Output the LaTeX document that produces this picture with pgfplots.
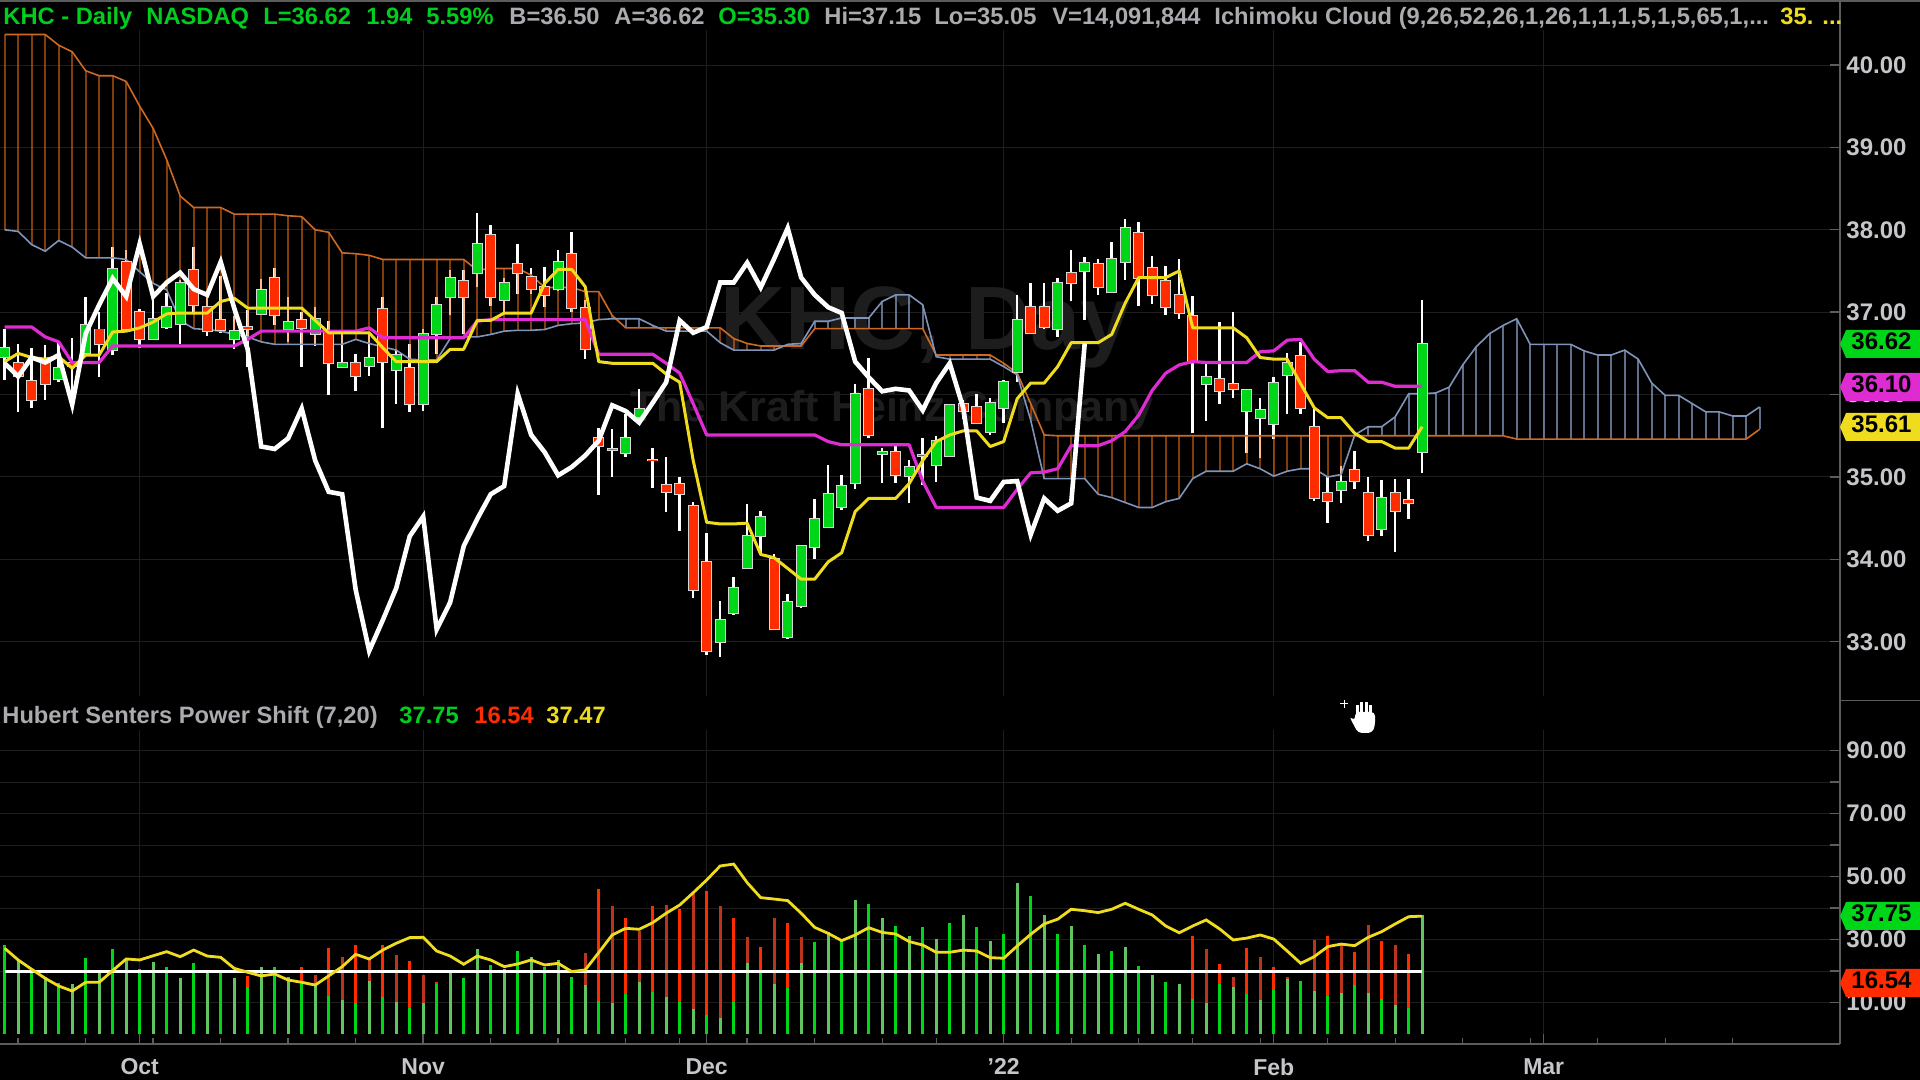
\documentclass[border=0pt]{standalone}
\usepackage{fontspec}
\usepackage{pgfplots}
\usepackage{pgfplotstable}
\pgfplotsset{compat=1.18}
\setmainfont{Liberation Sans}
\definecolor{cgreen}{RGB}{0,214,24}
\definecolor{cred}{RGB}{255,44,0}
\definecolor{palegreen}{RGB}{96,196,96}
\definecolor{palered}{RGB}{186,52,30}
\definecolor{cyel}{RGB}{240,220,30}
\definecolor{cmag}{RGB}{222,44,210}
\definecolor{cor}{RGB}{205,105,35}
\definecolor{hor}{RGB}{255,120,20}
\definecolor{cblu}{RGB}{128,148,186}
\definecolor{gridc}{RGB}{30,30,30}
\definecolor{axc}{RGB}{92,92,92}
\definecolor{lab}{RGB}{198,198,202}
\definecolor{hgreen}{RGB}{0,205,30}
\definecolor{hgray}{RGB}{170,170,175}
\definecolor{wm}{RGB}{29,29,29}

\pgfplotstableread{
i o h l c
0 36.46 36.79 36.18 36.56
4 36.19 36.64 36.15 36.32
6 36.50 37.19 36.48 36.85
8 36.54 37.79 36.48 37.52
11 36.68 37.19 36.68 36.92
12 36.82 37.23 36.80 37.06
13 36.86 37.39 36.62 37.36
17 36.68 36.95 36.55 36.77
19 36.98 37.40 36.96 37.27
21 36.79 37.18 36.64 36.88
23 36.74 37.06 36.59 36.92
25 36.34 36.76 36.32 36.38
27 36.35 36.76 36.22 36.45
29 36.30 36.55 35.89 36.48
31 35.88 36.80 35.80 36.74
32 36.73 37.18 36.49 37.09
33 37.19 37.51 36.96 37.41
35 37.47 38.20 37.30 37.83
37 37.15 37.42 37.00 37.36
41 37.28 37.75 37.26 37.61
45 35.33 35.58 35.00 35.34
46 35.29 35.77 35.24 35.47
47 35.73 36.07 35.70 35.83
53 33.00 33.49 32.82 33.26
54 33.35 33.79 33.33 33.65
55 33.90 34.67 33.90 34.28
56 34.28 34.59 34.07 34.52
58 33.06 33.58 33.03 33.48
59 33.44 34.18 33.41 34.16
60 34.15 34.73 34.00 34.49
61 34.39 35.15 34.39 34.79
62 34.64 35.02 34.60 34.89
63 34.93 36.13 34.86 36.01
65 35.28 35.35 34.93 35.30
67 35.01 35.21 34.69 35.12
69 35.14 35.50 34.94 35.44
70 35.25 35.89 35.24 35.87
73 35.55 35.96 35.51 35.90
74 35.84 36.18 35.66 36.15
75 36.27 37.21 36.15 36.90
78 36.79 37.41 36.70 37.36
80 37.50 37.67 36.91 37.60
82 37.24 37.85 37.23 37.65
83 37.61 38.13 37.39 38.02
89 36.13 36.41 35.68 36.21
92 35.80 36.07 35.29 36.05
93 35.71 35.96 35.23 35.81
94 35.64 36.21 35.46 36.14
95 36.24 36.51 35.77 36.38
99 34.84 35.13 34.68 34.94
102 34.37 34.96 34.28 34.74
105 35.30 37.15 35.05 36.62
}\upc
\pgfplotstableread{
i o h l c
1 36.38 36.62 35.79 36.22
2 36.17 36.56 35.84 35.93
3 36.38 36.60 35.94 36.13
5 36.38 36.69 35.85 36.35
7 36.79 37.00 36.21 36.61
9 37.61 37.75 36.78 36.80
10 37.00 37.04 36.57 36.68
14 37.51 37.79 37.00 37.09
15 37.06 37.19 36.71 36.77
16 36.90 37.44 36.75 36.78
18 36.82 37.03 36.34 36.80
20 37.41 37.54 36.85 36.97
22 36.90 37.00 36.34 36.81
24 36.76 36.89 36.00 36.38
26 36.38 36.49 36.04 36.22
28 37.04 37.19 35.60 36.39
30 36.32 36.62 35.79 35.88
34 37.38 37.51 36.74 37.19
36 37.94 38.06 37.08 37.19
38 37.58 37.83 37.22 37.48
39 37.43 37.54 37.22 37.28
40 37.30 37.55 37.06 37.21
42 37.71 37.97 37.00 37.05
43 37.05 37.15 36.43 36.55
44 35.47 35.59 34.78 35.37
48 35.21 35.35 34.87 35.20
49 34.90 35.24 34.57 34.82
50 34.92 35.00 34.35 34.79
51 34.65 34.70 33.53 33.63
52 33.97 34.32 32.84 32.89
57 34.00 34.06 33.14 33.15
64 36.07 36.45 35.47 35.51
66 35.30 35.37 34.93 35.02
68 35.27 35.47 34.90 35.26
71 35.89 35.93 35.70 35.80
72 35.85 36.01 35.65 35.66
76 37.06 37.35 36.75 36.75
77 37.06 37.35 36.80 36.82
79 37.47 37.75 37.13 37.36
81 37.58 37.65 37.21 37.30
84 37.96 38.09 37.08 37.42
85 37.54 37.68 37.10 37.21
86 37.38 37.56 36.97 37.06
87 37.21 37.65 36.92 36.99
88 36.95 37.20 35.53 36.40
90 36.19 36.88 35.88 36.04
91 36.13 37.00 35.96 36.07
96 36.47 36.64 35.77 35.84
97 35.61 35.85 34.71 34.75
98 34.81 35.00 34.44 34.71
100 35.09 35.31 34.86 34.95
101 34.81 35.00 34.22 34.30
103 34.81 34.98 34.09 34.59
104 34.72 34.98 34.49 34.68
}\dnc
\pgfplotstableread{
i a b
0 38.00 40.37
1 37.98 40.37
2 37.82 40.37
3 37.74 40.37
4 37.87 40.24
5 37.79 40.16
6 37.66 39.93
7 37.66 39.87
8 37.66 39.87
9 37.64 39.80
10 37.49 39.50
11 37.35 39.23
12 37.27 38.85
13 36.90 38.41
14 36.80 38.27
15 36.79 38.27
16 36.77 38.27
17 36.73 38.19
18 36.70 38.19
19 36.64 38.19
20 36.61 38.19
21 36.61 38.17
22 36.61 38.16
23 36.61 38.00
24 36.61 37.97
25 36.61 37.72
26 36.67 37.71
27 36.62 37.69
28 36.58 37.64
29 36.54 37.64
30 36.43 37.64
31 36.42 37.64
32 36.42 37.64
33 36.68 37.64
34 36.70 37.64
35 36.70 37.51
36 36.73 37.53
37 36.77 37.53
38 36.78 37.53
39 36.78 37.45
40 36.79 37.30
41 36.84 37.30
42 36.86 37.30
43 36.87 37.25
44 36.91 37.25
45 36.92 36.96
46 36.92 36.81
47 36.92 36.81
48 36.84 36.81
49 36.77 36.81
50 36.77 36.81
51 36.77 36.81
52 36.77 36.81
53 36.63 36.81
54 36.54 36.68
55 36.54 36.62
56 36.54 36.59
57 36.54 36.59
58 36.61 36.59
59 36.62 36.59
60 36.89 36.80
61 36.89 36.80
62 36.93 36.80
63 36.93 36.80
64 36.93 36.80
65 37.13 36.80
66 37.21 36.80
67 37.21 36.80
68 37.09 36.80
69 36.46 36.48
70 36.43 36.48
71 36.43 36.48
72 36.43 36.48
73 36.43 36.48
74 36.34 36.38
75 36.24 36.26
76 35.69 35.89
77 34.98 35.51
78 34.98 35.50
79 34.98 35.50
80 34.98 35.50
81 34.79 35.50
82 34.75 35.50
83 34.69 35.50
84 34.63 35.50
85 34.63 35.50
86 34.70 35.50
87 34.74 35.50
88 34.98 35.50
89 35.07 35.50
90 35.07 35.50
91 35.07 35.50
92 35.16 35.50
93 35.10 35.50
94 35.01 35.50
95 35.07 35.50
96 35.10 35.50
97 35.10 35.50
98 35.00 35.50
99 35.03 35.50
100 35.51 35.50
101 35.61 35.50
102 35.61 35.50
103 35.73 35.50
104 36.01 35.50
105 36.01 35.50
106 36.02 35.50
107 36.09 35.50
108 36.36 35.50
109 36.58 35.50
110 36.74 35.50
111 36.84 35.50
112 36.92 35.46
113 36.61 35.46
114 36.61 35.46
115 36.61 35.46
116 36.61 35.46
117 36.53 35.46
118 36.48 35.46
119 36.48 35.46
120 36.54 35.46
121 36.43 35.46
122 36.14 35.46
123 35.99 35.46
124 35.99 35.46
125 35.89 35.46
126 35.79 35.46
127 35.79 35.46
128 35.74 35.46
129 35.74 35.46
130 35.85 35.58
}\cloud
\pgfplotstableread{
i t k
0 36.40 36.82
1 36.50 36.82
2 36.45 36.82
3 36.43 36.70
4 36.46 36.64
5 36.32 36.39
6 36.48 36.39
7 36.48 36.39
8 36.76 36.59
9 36.77 36.59
10 36.81 36.59
11 36.88 36.59
12 36.98 36.59
13 36.99 36.59
14 36.99 36.59
15 36.99 36.59
16 37.13 36.59
17 37.17 36.59
18 37.05 36.67
19 37.05 36.77
20 37.05 36.77
21 37.05 36.77
22 37.05 36.77
23 36.90 36.77
24 36.75 36.77
25 36.75 36.77
26 36.75 36.77
27 36.75 36.81
28 36.57 36.69
29 36.40 36.69
30 36.40 36.69
31 36.40 36.69
32 36.40 36.69
33 36.55 36.69
34 36.55 36.69
35 36.90 36.89
36 36.90 36.91
37 36.99 36.91
38 36.99 36.91
39 36.99 36.91
40 37.35 36.91
41 37.52 36.91
42 37.52 36.91
43 37.31 36.91
44 36.40 36.49
45 36.38 36.49
46 36.38 36.49
47 36.38 36.49
48 36.38 36.49
49 36.25 36.38
50 36.15 36.26
51 35.20 35.89
52 34.45 35.51
53 34.43 35.51
54 34.43 35.51
55 34.44 35.51
56 34.06 35.51
57 34.02 35.51
58 33.89 35.51
59 33.76 35.51
60 33.76 35.51
61 33.97 35.43
62 34.08 35.39
63 34.58 35.39
64 34.74 35.39
65 34.74 35.39
66 34.74 35.39
67 34.92 35.39
68 35.20 34.95
69 35.43 34.63
70 35.51 34.63
71 35.56 34.63
72 35.56 34.63
73 35.37 34.63
74 35.43 34.63
75 35.95 34.85
76 36.14 35.05
77 36.14 35.06
78 36.34 35.10
79 36.63 35.38
80 36.63 35.38
81 36.63 35.38
82 36.73 35.44
83 37.11 35.55
84 37.42 35.75
85 37.42 36.05
86 37.42 36.26
87 37.50 36.36
88 36.81 36.40
89 36.81 36.39
90 36.81 36.39
91 36.81 36.39
92 36.69 36.39
93 36.45 36.52
94 36.43 36.53
95 36.43 36.66
96 36.13 36.67
97 35.84 36.43
98 35.72 36.28
99 35.72 36.29
100 35.53 36.29
101 35.43 36.15
102 35.43 36.15
103 35.35 36.10
104 35.35 36.10
105 35.61 36.10
}\lines
\pgfplotstableread{
i c
0 36.38
1 36.22
2 36.45
3 36.39
4 36.48
5 35.88
6 36.74
7 37.09
8 37.41
9 37.19
10 37.83
11 37.19
12 37.36
13 37.48
14 37.28
15 37.21
16 37.61
17 37.05
18 36.55
19 35.37
20 35.34
21 35.47
22 35.83
23 35.20
24 34.82
25 34.79
26 33.63
27 32.89
28 33.26
29 33.65
30 34.28
31 34.52
32 33.15
33 33.48
34 34.16
35 34.49
36 34.79
37 34.89
38 36.01
39 35.51
40 35.30
41 35.02
42 35.12
43 35.26
44 35.44
45 35.87
46 35.80
47 35.66
48 35.90
49 36.15
50 36.90
51 36.75
52 36.82
53 37.36
54 37.36
55 37.60
56 37.30
57 37.65
58 38.02
59 37.42
60 37.21
61 37.06
62 36.99
63 36.40
64 36.21
65 36.04
66 36.07
67 36.05
68 35.81
69 36.14
70 36.38
71 35.84
72 34.75
73 34.71
74 34.94
75 34.95
76 34.30
77 34.74
78 34.59
79 34.68
80 36.62
}\lag
\pgfplotstableread{
i g r
0 28.3 0
2 20.2 0
4 16.36 0
6 24.09 0
8 26.95 0
10 20.6 0
12 21.23 0
14 22.5 0
16 19.86 0
18 15.1 18.5
20 21.23 0
22 15.94 21.44
24 12.13 27.47
26 9.8 28.3
28 11.7 28.3
30 8.2 23.25
32 15.94 16.7
34 17.74 0
36 21.97 0
38 26.4 0
40 21.44 0
42 18.27 0
44 10.65 46.0
46 12.66 36.8
48 13.5 40.7
50 10.33 39.65
52 6.1 45.6
54 10.33 36.8
56 20.4 27.8
58 14.56 35.4
60 29.4 0
62 29.9 0
64 41.2 0
66 34.35 0
68 33.9 0
70 35.4 0
72 33.9 0
74 31.7 0
76 44.0 0
78 31.7 0
80 28.3 0
82 26.4 0
84 21.65 0
86 16.47 0
88 11.07 31.2
90 15.94 22.2
92 12.66 27.47
94 14.04 21.44
96 16.9 0
98 12.13 31.2
100 15.6 26.0
102 11.2 29.7
104 8.2 25.46
}\evenbars
\pgfplotstableread{
i g r
1 23.35 0
3 18.06 0
5 15.94 0
7 19.33 0
9 23.56 0
11 23.0 0
13 17.74 0
15 19.86 0
17 17.74 0
19 21.23 0
21 18.27 0
23 15.6 18.8
25 10.86 24.6
27 17.0 24.1
29 10.33 25.15
31 9.8 18.8
33 19.86 0
35 26.95 0
37 20.6 0
39 24.4 0
41 23.56 0
43 15.6 25.9
45 9.8 40.7
47 16.47 32.8
49 11.7 41.0
51 7.9 44.9
53 5.0 40.7
55 22.7 30.75
57 15.94 36.8
59 22.7 30.75
61 32.55 0
63 42.6 0
65 36.8 0
67 31.2 0
69 30.1 0
71 37.85 0
73 29.7 0
75 47.9 0
77 37.85 0
79 34.5 0
81 25.5 0
83 27.8 0
85 18.8 0
87 15.94 0
89 9.8 26.95
91 15.1 18.27
93 10.86 24.4
95 17.42 18.27
97 13.7 29.9
99 12.98 28.3
101 12.98 34.67
103 9.27 28.3
105 37.75 0
}\oddbars
\pgfplotstableread{
i v
0 27.26
1 23.56
2 20.6
3 17.74
4 15.3
5 13.7
6 16.47
7 16.47
8 20.2
9 23.88
10 23.56
11 24.9
12 26.2
13 24.6
14 26.7
15 24.8
16 24.4
17 20.9
18 19.65
19 18.5
20 19.1
21 17.2
22 16.47
23 15.6
24 18.5
25 21.44
26 25.36
27 23.88
28 26.7
29 28.85
30 30.65
31 30.75
32 26.4
33 24.8
34 22.2
35 24.8
36 23.56
37 21.44
38 22.3
39 23.56
40 21.97
41 22.5
42 19.86
43 20.4
44 25.9
45 31.5
46 33.6
47 33.3
48 35.4
49 38.4
50 41.0
51 44.9
52 48.96
53 53.4
54 54.0
55 48.1
56 43.35
57 42.9
58 42.4
59 38.4
60 33.9
61 32.0
62 29.7
63 31.5
64 33.8
65 32.3
66 31.8
67 29.4
68 28.3
69 26.0
70 26.0
71 26.7
72 26.4
73 24.3
74 24.1
75 28.0
76 31.7
77 35.0
78 36.5
79 39.65
80 39.2
81 38.6
82 39.65
83 41.55
84 39.65
85 37.85
86 34.35
87 32.2
88 34.35
89 36.26
90 33.4
91 29.9
92 30.5
93 31.5
94 30.2
95 26.4
96 22.5
97 24.6
98 27.8
99 28.6
100 28.1
101 30.75
102 32.55
103 35.0
104 37.3
105 37.47
}\power

\pgfplotsset{
  seg/.style n args={2}{draw=none, mark=none, forget plot,
    error bars/.cd, y dir=plus, y explicit, error mark=none,
    error bar style={solid, line cap=butt, line width=#1, #2}},
  chart/.style={scale only axis, width=920pt, xmin=-0.348, xmax=135.95,
    axis y line*=right, axis x line*=bottom,
    axis line style={draw=axc, line width=0.8pt, -},
    xtick={10,31,52,74,94,114},
    xmajorgrids, ymajorgrids,
    major grid style={draw=gridc, line width=0.5pt},
    major tick length=5pt, minor tick length=3pt,
    tick style={draw=axc, line width=0.7pt},
    yticklabel style={font=\fontsize{12}{12}\selectfont\bfseries, text=lab, inner sep=0pt, xshift=3pt,
      /pgf/number format/.cd, fixed, fixed zerofill, precision=2, assume math mode=true},
    clip=true, legend style={draw=none}},
}
\newcommand\txt[4]{\node[anchor=base west, inner sep=0pt, text=#3, font=\fontsize{11.85}{12}\selectfont\bfseries] at (#1,#2) {#4};}
\newcommand\tag[3]{\fill[#3] (1840,#1) -- (1846,#1-14) -- (1920,#1-14) -- (1920,#1+14) -- (1846,#1+14) -- cycle;
  \node[anchor=base west, inner sep=0pt, text=black, font=\fontsize{12}{12}\selectfont\bfseries] at (1851,#1+6) {#2};}

\begin{document}
\begin{tikzpicture}
\path[use as bounding box, fill=black] (0pt,0pt) rectangle (960pt,540pt);
\begin{scope}[x=0.5pt,y=-0.5pt,shift={(0pt,540pt)}]
  \node[anchor=base west, inner sep=0pt, text=wm, font=\fontsize{45}{45}\selectfont\bfseries] at (720,350) {KHC, Day};
  \node[anchor=base west, inner sep=0pt, text=wm, font=\fontsize{21.5}{21.5}\selectfont\bfseries] at (630,422) {The Kraft Heinz Company};
\end{scope}

% price panel
\begin{axis}[chart, at={(0pt,192pt)}, anchor=south west, height=333pt,
  ymin=32.342, ymax=40.425, ytick={33,34,35,36,37,38,39,40},
  xticklabels={}, xtick style={draw=none}, x axis line style={draw=none}]
  % wicks
  \addplot[seg={1.25pt}{draw=white}] table[x=i, y=l, y error plus expr=\thisrow{h}-\thisrow{l}] {\upc};
  \addplot[seg={1.25pt}{draw=white}] table[x=i, y=l, y error plus expr=\thisrow{h}-\thisrow{l}] {\dnc};
  % cloud hatching
  \addplot[seg={1.1pt}{draw=hor, opacity=0.5}] table[x=i, y=a, y error plus expr={max(\thisrow{b}-\thisrow{a},0)}] {\cloud};
  \addplot[seg={1.1pt}{draw=cblu, opacity=0.75}] table[x=i, y=b, y error plus expr={max(\thisrow{a}-\thisrow{b},0)}] {\cloud};
  \addplot[cor, line width=0.8pt, forget plot] table[x=i,y=b] {\cloud};
  \addplot[cblu, line width=0.8pt, forget plot] table[x=i,y=a] {\cloud};
  % bodies
  \addplot[seg={5.6pt}{draw=white!85!black}] table[x=i, y expr=\thisrow{o}-0.012, y error plus expr=\thisrow{c}-\thisrow{o}+0.024] {\upc};
  \addplot[seg={5.6pt}{draw=white!85!black}] table[x=i, y expr=\thisrow{c}-0.012, y error plus expr=\thisrow{o}-\thisrow{c}+0.024] {\dnc};
  \addplot[seg={4.6pt}{draw=cgreen}] table[x=i, y=o, y error plus expr=\thisrow{c}-\thisrow{o}] {\upc};
  \addplot[seg={4.6pt}{draw=cred}] table[x=i, y=c, y error plus expr=\thisrow{o}-\thisrow{c}] {\dnc};
  % lines
  \addplot[cmag, line width=1.6pt, forget plot, line join=round] table[x=i,y=k] {\lines};
  \addplot[cyel, line width=1.5pt, forget plot, line join=round] table[x=i,y=t] {\lines};
  \addplot[white, line width=2.3pt, forget plot, line join=miter] table[x=i,y=c] {\lag};
\end{axis}

% indicator panel
\begin{axis}[chart, at={(0pt,17.85pt)}, anchor=south west, height=157.15pt,
  ymin=-3.21, ymax=96.57, ytick={10,20,30,40,50,60,70,80,90},
  yticklabels={10.00,,30.00,,50.00,,70.00,,90.00},
  xticklabels={Oct,Nov,Dec,{'22},Feb,Mar},
  minor xtick={1,6,11,16,21,26,36,41,46,50,55,60,65,69,79,84,88,93,98,103,108,113,118,123,128},
  xticklabel style={font=\fontsize{11.5}{11.5}\selectfont\bfseries, text=lab, inner sep=0pt, yshift=-7pt}]
  \addplot[ycomb, draw=cred, line width=1.4pt, mark=none, forget plot] table[x=i,y=r] {\evenbars};
  \addplot[ycomb, draw=palered, line width=1.4pt, mark=none, forget plot] table[x=i,y=r] {\oddbars};
  \addplot[ycomb, draw=cgreen, line width=1.4pt, mark=none, forget plot] table[x=i,y=g] {\evenbars};
  \addplot[ycomb, draw=palegreen, line width=1.4pt, mark=none, forget plot] table[x=i,y=g] {\oddbars};
  \addplot[white, line width=1.5pt, forget plot] coordinates {(0,20) (105,20)};
  \addplot[cyel, line width=1.4pt, forget plot] table[x=i,y=v] {\power};
\end{axis}

\begin{scope}[x=0.5pt,y=-0.5pt,shift={(0pt,540pt)}]
  % frame pieces
  \draw[axc, line width=0.7pt] (0,1) -- (1920,1);
  \draw[axc, line width=0.8pt] (1840,0) -- (1840,1044);
  \draw[axc, line width=0.7pt] (1840,700.5) -- (1920,700.5);
  % header
  \txt{3}{25}{hgreen}{KHC - Daily}
  \txt{146}{25}{hgreen}{NASDAQ}
  \txt{263}{25}{hgreen}{L=36.62}
  \txt{366}{25}{hgreen}{1.94}
  \txt{426}{25}{hgreen}{5.59\%}
  \txt{509}{25}{hgray}{B=36.50}
  \txt{614}{25}{hgray}{A=36.62}
  \txt{718}{25}{hgreen}{O=35.30}
  \txt{824}{25}{hgray}{Hi=37.15}
  \txt{934}{25}{hgray}{Lo=35.05}
  \txt{1052}{25}{hgray}{V=14,091,844}
  \txt{1214}{25}{hgray}{Ichimoku Cloud (9,26,52,26,1,26,1,1,1,5,1,5,65,1,...}
  \txt{1780}{25}{cyel}{35.}
  \txt{1822}{25}{cyel}{...}
  % indicator legend
  \txt{2}{724}{hgray}{Hubert Senters Power Shift (7,20)}
  \txt{399}{724}{hgreen}{37.75}
  \txt{474}{724}{cred}{16.54}
  \txt{546}{724}{cyel}{37.47}
  % value tags
  \tag{344}{36.62}{cgreen}
  \tag{387}{36.10}{cmag}
  \tag{427}{35.61}{cyel}
  \tag{916}{37.75}{cgreen}
  \tag{983}{16.54}{cred}
  % cursor
  \draw[white, line width=0.5pt] (1340,704) -- (1348,704) (1344,700) -- (1344,708);
  \fill[white, rounded corners=2pt] (1349,716) -- (1355,721) -- (1355,712) -- (1375,712) -- (1375,726) -- (1372,733) -- (1358,733) -- cycle;
  \fill[white] (1355.5,705) rectangle (1358.5,714);
  \fill[white] (1360,702) rectangle (1363,714);
  \fill[white] (1364.5,702) rectangle (1367.5,714);
  \fill[white] (1369,705) rectangle (1372,714);
\end{scope}
\end{tikzpicture}
\end{document}
